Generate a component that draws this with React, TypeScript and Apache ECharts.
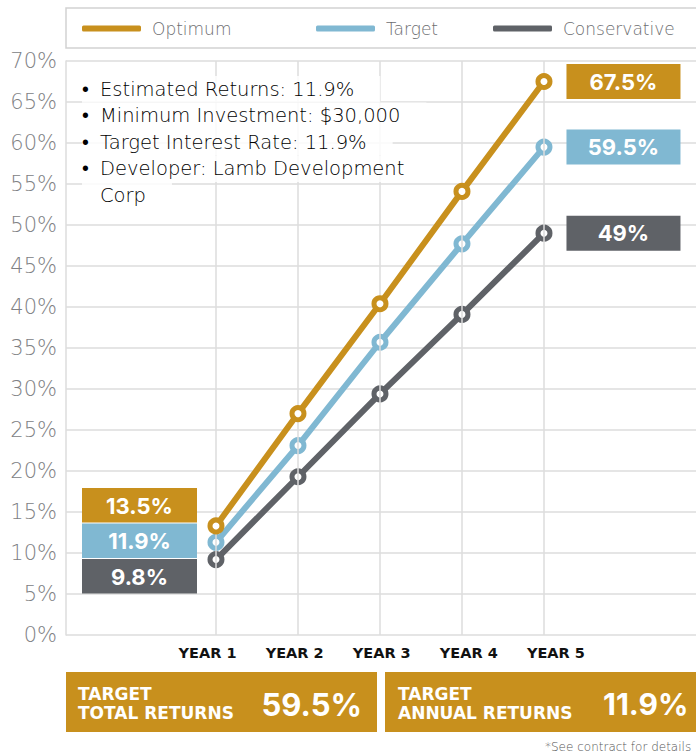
import React, { useEffect, useRef } from 'react';
import * as echarts from 'echarts';

const categories = ['YEAR 1', 'YEAR 2', 'YEAR 3', 'YEAR 4', 'YEAR 5'];
const yearIndex = [1, 2, 3, 4, 5];
const seriesNames = ['Optimum', 'Target', 'Conservative'];
const optimumValues = [13.3, 27.0, 40.4, 54.1, 67.5];
const targetValues = [11.3, 23.1, 35.7, 47.7, 59.5];
const conservativeValues = [9.2, 19.3, 29.4, 39.1, 49];
const yearOneLabels = ['13.5%', '11.9%', '9.8%'];
const infoLines = [
  { bullet: true, text: 'Estimated Returns: 11.9%' },
  { bullet: true, text: 'Minimum Investment: $30,000' },
  { bullet: true, text: 'Target Interest Rate: 11.9%' },
  { bullet: true, text: 'Developer: Lamb Development' },
  { bullet: false, text: 'Corp' },
];
const totalLabel = 'TARGET\nTOTAL RETURNS';
const totalValue = '59.5%';
const annualLabel = 'TARGET\nANNUAL RETURNS';
const annualValue = '11.9%';
const footnote = '*See contract for details';

const COLORS = ['#C8901D', '#80B8D2', '#5F6267'];
const FONT = 'Inter, "Noto Sans", sans-serif';
const WIDE = '"DejaVu Sans", sans-serif';
const GRID_COLOR = '#dcdcdc';

export default function App() {
  const ref = useRef<HTMLDivElement>(null);

  useEffect(() => {
    if (!ref.current) return;
    const chart = echarts.init(ref.current, null, { renderer: 'svg' });
    const valuesList = [optimumValues, targetValues, conservativeValues];

    const series: any[] = [
      {
        name: 'grid-lines',
        type: 'line',
        z: 1,
        data: [],
        silent: true,
        markLine: {
          silent: true,
          symbol: 'none',
          animation: false,
          label: { show: false },
          lineStyle: { color: GRID_COLOR, width: 1.5, type: 'solid' },
          emphasis: { disabled: true },
          data: yearIndex.map((x) => ({ xAxis: x })),
        },
      },
    ];
    seriesNames.forEach((name, si) => {
      series.push({
        name,
        type: 'line',
        z: 3 + (2 - si),
        data: valuesList[si].map((v, i) => ({
          value: [yearIndex[i], v],
          label: { show: i === valuesList[si].length - 1 },
        })),
        symbol: 'circle',
        symbolSize: 12,
        lineStyle: { color: COLORS[si], width: 6 },
        itemStyle: { color: '#fff', borderColor: COLORS[si], borderWidth: 5 },
        label: {
          show: false,
          position: 'right',
          distance: 14,
          formatter: (p: any) => '{box|' + p.value[1] + '%}',
          rich: {
            box: {
              width: 114,
              height: 35,
              lineHeight: 35,
              align: 'center',
              verticalAlign: 'middle',
              backgroundColor: COLORS[si],
              color: '#fff',
              fontSize: 22,
              fontWeight: 'bold',
              fontFamily: FONT,
            },
          },
        },
        emphasis: { disabled: true },
      });
    });

    const legendStarts = [82, 316, 493];
    const legends = seriesNames.map((name, si) => ({
      data: [{ name, itemStyle: { color: COLORS[si], borderWidth: 0 } }],
      left: legendStarts[si],
      top: 20,
      padding: 0,
      icon: 'roundRect',
      itemWidth: 59,
      itemHeight: 6,
      selectedMode: false,
      textStyle: {
        fontFamily: WIDE,
        fontSize: 17,
        fontWeight: 200,
        color: '#6d6e71',
        padding: [0, 0, 0, 6],
      },
    }));

    const leftBoxTops = [488, 523.5, 559];
    const graphics: any[] = [
      {
        type: 'rect',
        z: 1,
        shape: { x: 66, y: 8, width: 700, height: 40 },
        style: { fill: 'none', stroke: '#d2d2d2', lineWidth: 1.5 },
      },
    ];
    const rowTops = [76, 102.5, 129, 155.5, 182];
    infoLines.forEach((line, i) => {
      graphics.push({
        type: 'text',
        z: 10,
        x: 82,
        y: rowTops[i],
        style: {
          text: '{b|' + (line.bullet ? '•' : ' ') + '}{t|' + line.text + '}',
          backgroundColor: 'rgba(255,255,255,0.85)',
          padding: [0, 26, 0, 0],
          rich: {
            b: { width: 18, fontSize: 19.5, lineHeight: 26.5, fontFamily: WIDE, color: '#55595e', fontWeight: 200 },
            t: { fontSize: 19.5, lineHeight: 26.5, fontFamily: WIDE, color: '#55595e', fontWeight: 200 },
          },
        },
      });
    });
    yearOneLabels.forEach((lab, i) => {
      graphics.push({
        type: 'rect',
        z: 10,
        shape: { x: 82, y: leftBoxTops[i], width: 115, height: 34.5 },
        style: { fill: COLORS[i] },
      });
      graphics.push({
        type: 'text',
        z: 11,
        x: 139.5,
        y: leftBoxTops[i] + 17.5,
        style: {
          text: lab,
          fill: '#fff',
          fontSize: 22,
          fontWeight: 'bold',
          fontFamily: FONT,
          align: 'center',
          verticalAlign: 'middle',
        },
      });
    });
    graphics.push(
      { type: 'rect', z: 10, shape: { x: 66, y: 672, width: 311, height: 60 }, style: { fill: COLORS[0] } },
      { type: 'rect', z: 10, shape: { x: 385, y: 672, width: 400, height: 60 }, style: { fill: COLORS[0] } },
      {
        type: 'text', z: 11, x: 78, y: 703,
        style: { text: totalLabel, fill: '#fff', fontSize: 17, lineHeight: 19, fontWeight: 'bold', fontFamily: WIDE, verticalAlign: 'middle' },
      },
      {
        type: 'text', z: 11, x: 362, y: 704,
        style: { text: totalValue, fill: '#fff', fontSize: 31, fontWeight: 'bold', fontFamily: FONT, align: 'right', verticalAlign: 'middle' },
      },
      {
        type: 'text', z: 11, x: 398, y: 703,
        style: { text: annualLabel, fill: '#fff', fontSize: 17, lineHeight: 19, fontWeight: 'bold', fontFamily: WIDE, verticalAlign: 'middle' },
      },
      {
        type: 'text', z: 11, x: 603, y: 704,
        style: { text: annualValue, fill: '#fff', fontSize: 30, fontWeight: 'bold', fontFamily: FONT, align: 'left', verticalAlign: 'middle' },
      },
      {
        type: 'text', z: 11, x: 545, y: 747,
        style: { text: footnote, fill: '#555', fontSize: 12, fontWeight: 200, fontFamily: WIDE, verticalAlign: 'middle' },
      }
    );

    chart.setOption({
      animation: false,
      legend: legends,
      grid: { left: 66, top: 61, right: 0, bottom: 119, containLabel: false },
      xAxis: [
        {
          type: 'value',
          min: -0.829,
          max: 6.854,
          axisLine: { show: false },
          axisTick: { show: false },
          axisLabel: { show: false },
          splitLine: { show: false },
        },
        {
          type: 'value',
          position: 'bottom',
          min: -0.6246,
          max: 6.608,
          axisLine: { show: false },
          axisTick: { show: false, customValues: yearIndex },
          axisLabel: {
            customValues: yearIndex,
            formatter: (v: number) => categories[Math.round(v) - 1] ?? '',
            fontFamily: WIDE,
            fontSize: 14.5,
            fontWeight: 'bold',
            color: '#111',
            margin: 10,
          },
          splitLine: { show: false },
        },
      ],
      yAxis: {
        type: 'value',
        min: 0,
        max: 70,
        interval: 5,
        axisLine: { show: true, onZero: false, lineStyle: { color: GRID_COLOR, width: 1.5 } },
        axisTick: { show: false },
        axisLabel: {
          formatter: '{value}%',
          fontFamily: WIDE,
          fontSize: 21,
          fontWeight: 200,
          color: '#808184',
          margin: 9,
        },
        splitLine: { lineStyle: { color: GRID_COLOR, width: 1.5 } },
      },
      series,
      graphic: graphics,
    });

    return () => chart.dispose();
  }, []);

  return (
    <div
      ref={ref}
      style={{ position: 'absolute', left: 0, top: 0, width: 696, height: 754, background: '#fff' }}
    />
  );
}
